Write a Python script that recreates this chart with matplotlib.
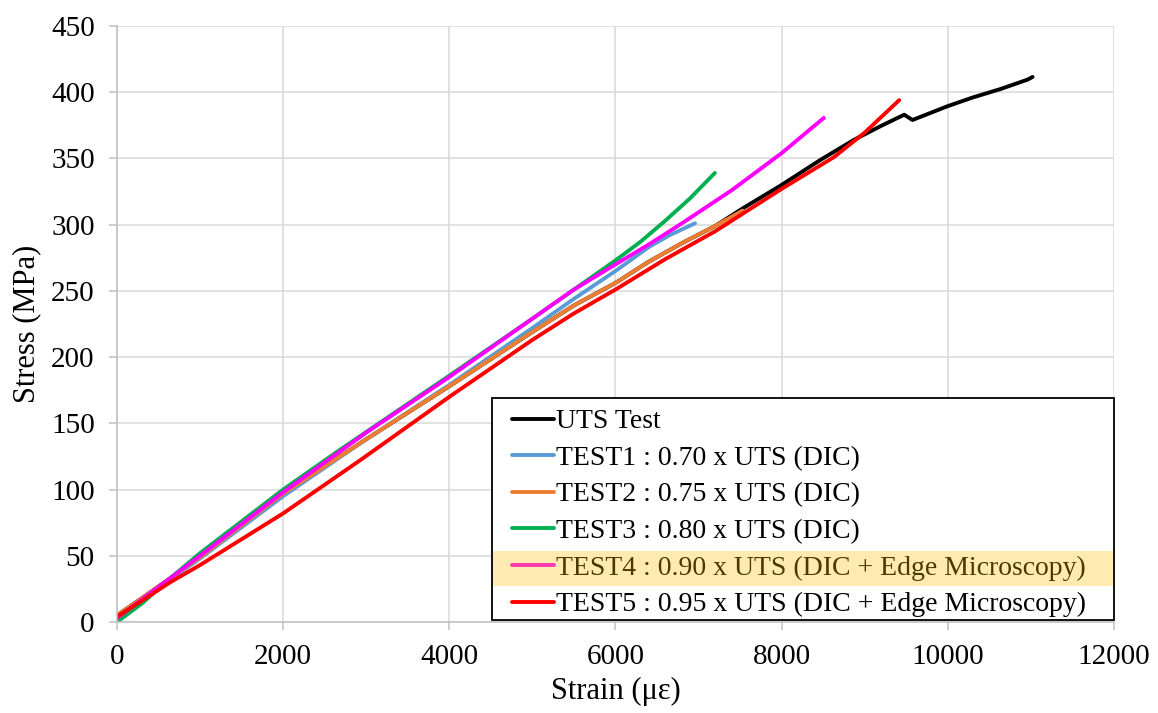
import matplotlib
matplotlib.use("Agg")
import matplotlib.pyplot as plt
from matplotlib.patches import Rectangle

plt.rcParams['font.family'] = ['Liberation Serif', 'DejaVu Serif']

# ---- data ----
uts_x = [0, 300, 640, 1000, 2000, 3000, 4000, 5000, 5500, 6000, 6400, 6800, 7200, 7540, 8000, 8470, 8870, 9195, 9475, 9575, 10000, 10300, 10640, 10800, 10960, 11020]
uts_y = [5, 18, 33, 49, 97, 138, 178, 219, 239, 256, 272, 286, 299, 312.6, 330, 349, 364, 374.5, 383, 379, 389.5, 396, 402.5, 406, 409.5, 411.5]

t1_x = [0, 300, 640, 1000, 2000, 3000, 4000, 5000, 5500, 6000, 6400, 6650, 6957]
t1_y = [3, 16, 32, 48, 95, 138, 179, 222, 244, 265, 283, 292, 301]

t2_x = [0, 300, 640, 1000, 2000, 3000, 4000, 5000, 5500, 6000, 6400, 6800, 7200, 7530]
t2_y = [5, 18, 33, 49, 97, 138, 178, 219, 239, 256, 272, 286, 299, 310.6]

t3_x = [0, 300, 640, 1000, 2000, 2683, 4000, 5000, 5500, 6000, 6300, 6600, 6900, 7196]
t3_y = [0, 14, 33, 52, 100, 130, 186, 229, 251, 273, 287, 303, 320, 339]

t4_x = [0, 300, 640, 1000, 2000, 3000, 4000, 5000, 5500, 6000, 6400, 6800, 7400, 8000, 8508]
t4_y = [3, 17, 33, 50, 98, 143, 185, 229, 251, 270, 285, 301, 326, 354, 380.6]

t5_x = [0, 300, 640, 1000, 2000, 2924, 4000, 5000, 5500, 6000, 6600, 7200, 7550, 8000, 8630, 9000, 9415]
t5_y = [4, 16, 30, 43, 82, 122, 170, 213, 233, 251, 274, 295, 309, 327, 351, 369.5, 394]

labels = ["UTS Test",
          "TEST1 : 0.70 x UTS (DIC)",
          "TEST2 : 0.75 x UTS (DIC)",
          "TEST3 : 0.80 x UTS (DIC)",
          "TEST4 : 0.90 x UTS (DIC + Edge Microscopy)",
          "TEST5 : 0.95 x UTS (DIC + Edge Microscopy)"]
colors = ["#000000", "#5B9BD5", "#ED7D31", "#00B050", "#FF00FF", "#FF0000"]

x_ticks = [0, 2000, 4000, 6000, 8000, 10000, 12000]
y_ticks = [0, 50, 100, 150, 200, 250, 300, 350, 400, 450]

# ---- figure ----
W, H = 1158, 713
fig = plt.figure(figsize=(W / 100, H / 100), dpi=100)
ax = fig.add_axes([0.101, 0.1276, 0.861, 0.836])

series = [(uts_x, uts_y), (t1_x, t1_y), (t2_x, t2_y), (t3_x, t3_y), (t4_x, t4_y), (t5_x, t5_y)]
for (xs, ys), lab, c in zip(series, labels, colors):
    ax.plot(xs, ys, color=c, lw=2.8, label=lab, solid_capstyle='round', solid_joinstyle='round')

ax.set_xlim(0, 12000)
ax.set_ylim(0, 450)
ax.set_xticks(x_ticks)
ax.set_yticks(y_ticks)
ax.grid(True, color='#d9d9d9', lw=1.1)
ax.set_axisbelow(True)
for s in ['top', 'right']:
    ax.spines[s].set_visible(False)
for s in ['left', 'bottom']:
    ax.spines[s].set_color('#bfbfbf')
    ax.spines[s].set_linewidth(1.1)
ax.tick_params(axis='both', colors='#bfbfbf', labelcolor='black', labelsize=21,
               length=6, width=1.1, direction='out', pad=10)

ax.set_xlabel("Strain (\u03bc\u03b5)", fontsize=22, labelpad=5)
ax.set_ylabel("Stress (MPa)", fontsize=22, labelpad=7)

# legend (frame drawn separately so that padding matches)
leg = ax.legend(loc='upper left', bbox_to_anchor=(512 / W, 1 - 409 / H),
                bbox_transform=fig.transFigure, fontsize=20, frameon=False,
                handlelength=1.5, handletextpad=0.1, labelspacing=0.40,
                borderpad=0.0, borderaxespad=0.0)
leg.set_zorder(6)
for line in leg.get_lines():
    line.set_linewidth(2.8)

frame = Rectangle((492 / W, 1 - 620 / H), (1114 - 492) / W, (620 - 398) / H,
                  transform=fig.transFigure, facecolor='white', edgecolor='black',
                  lw=1.3, zorder=5.5, clip_on=False)
ax.add_patch(frame)

fig.canvas.draw()
r = fig.canvas.get_renderer()
tb = leg.get_texts()[4].get_window_extent(r)
cy = (tb.y0 + tb.y1) / 2
hh = 35
inv = fig.transFigure.inverted()
(x0, y0) = inv.transform((493, cy - hh / 2))
(x1, y1) = inv.transform((1113, cy + hh / 2))
rect = Rectangle((x0, y0), x1 - x0, y1 - y0, transform=fig.transFigure,
                 facecolor='#FFC000', alpha=0.3, edgecolor='none', zorder=10, clip_on=False)
ax.add_patch(rect)

fig.savefig("out.png", dpi=100)
